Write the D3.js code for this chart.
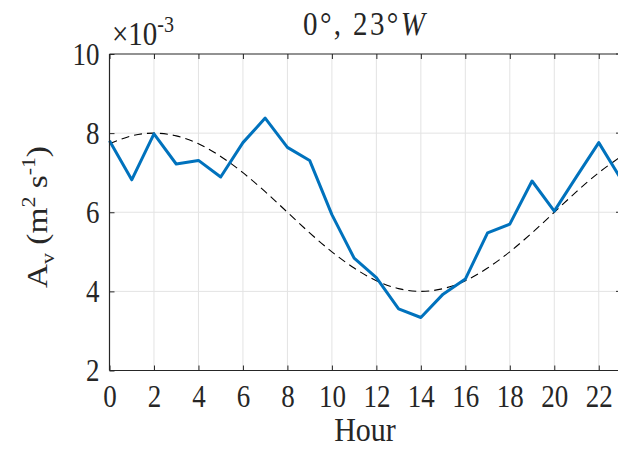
<!DOCTYPE html>
<html>
<head>
<meta charset="utf-8">
<script src="https://cdn.jsdelivr.net/npm/d3@7"></script>
<style>
  html, body { margin: 0; padding: 0; background: #fff; overflow: hidden; }
  svg { display: block; }
  text { font-family: "Liberation Serif", "Times New Roman", serif; fill: #262626; }
</style>
</head>
<body>
<svg id="chart" width="618" height="449"></svg>
<script>
// Hour of day
const hours = d3.range(0, 24);
// Observed vertical eddy viscosity (units of 1e-3 m^2/s)
const observed = [7.81, 6.82, 7.98, 7.22, 7.31, 6.89, 7.76, 8.38, 7.64, 7.31,
                  5.94, 4.84, 4.35, 3.56, 3.34, 3.93, 4.31, 5.48, 5.70, 6.79,
                  6.03, 6.90, 7.76, 6.84];
// Diurnal fit (units of 1e-3 m^2/s)
const fitted = [7.73, 7.93, 8.00, 7.93, 7.73, 7.41, 7.00, 6.52, 6.00, 5.48,
                5.00, 4.59, 4.27, 4.07, 4.00, 4.07, 4.27, 4.59, 5.00, 5.48,
                6.00, 6.52, 7.00, 7.41];
const xTicks = d3.range(0, 23, 2);
const yTicks = [2, 4, 6, 8, 10];

const svg = d3.select("#chart");
const m = { left: 109.5, right: 621, top: 54, bottom: 370.5 };

const x = d3.scaleLinear().domain([0, 23]).range([m.left, m.right]);
const y = d3.scaleLinear().domain([2, 10]).range([m.bottom, m.top]);

const axisColor = "#262626";
const gridColor = "#e3e3e3";
const stretch = 1.15;   // glyphs are drawn slightly taller than wide
const tickFont = 27;

// grid
const grid = svg.append("g");
grid.selectAll(".gx").data(xTicks.slice(1)).join("line")
  .attr("x1", d => x(d)).attr("x2", d => x(d))
  .attr("y1", m.top).attr("y2", m.bottom)
  .attr("stroke", gridColor).attr("stroke-width", 1);
grid.selectAll(".gy").data(yTicks.slice(1, -1)).join("line")
  .attr("x1", m.left).attr("x2", m.right)
  .attr("y1", d => y(d)).attr("y2", d => y(d))
  .attr("stroke", gridColor).attr("stroke-width", 1);

// curves
const fitLine = d3.line().x((d, i) => x(hours[i])).y(d => y(d)).curve(d3.curveNatural);
svg.append("path").datum(fitted)
  .attr("d", fitLine)
  .attr("fill", "none").attr("stroke", "#000").attr("stroke-width", 1.1)
  .attr("stroke-dasharray", "8,5");

const obsLine = d3.line().x((d, i) => x(hours[i])).y(d => y(d));
svg.append("path").datum(observed)
  .attr("d", obsLine)
  .attr("fill", "none").attr("stroke", "#0072BD").attr("stroke-width", 3)
  .attr("stroke-linejoin", "round");

// axes (ticks pointing inward)
const tickLen = 5;
const bottomAxis = d3.axisBottom(x).tickValues(xTicks).tickSize(-tickLen).tickFormat(d3.format("d"));
const topAxis = d3.axisTop(x).tickValues(xTicks).tickSize(-tickLen).tickFormat("");
const leftAxis = d3.axisLeft(y).tickValues(yTicks).tickSize(-tickLen).tickFormat(d3.format("d"));

function style(g) {
  g.select(".domain").attr("stroke", axisColor).attr("stroke-width", 1.2);
  g.selectAll(".tick line").attr("stroke", axisColor).attr("stroke-width", 1);
  g.selectAll(".tick text").attr("fill", axisColor)
    .style("font-family", '"Liberation Serif", serif').style("font-size", tickFont + "px");
}

svg.append("g").attr("transform", `translate(0,${m.bottom})`).call(bottomAxis).call(style)
  .call(g => g.select(".domain").attr("d", `M${m.left},0H${m.right}`))
  .call(g => g.selectAll(".tick text").attr("y", 0).attr("dy", null)
    .attr("transform", `translate(0,36) scale(1,${stretch})`));
svg.append("g").attr("transform", `translate(0,${m.top})`).call(topAxis).call(style)
  .call(g => g.select(".domain").attr("d", `M${m.left},0H${m.right}`));
svg.append("g").attr("transform", `translate(${m.left},0)`).call(leftAxis).call(style)
  .call(g => g.select(".domain").attr("d", `M0,${m.top}V${m.bottom}`))
  .call(g => g.selectAll(".tick text").attr("x", 0).attr("dy", null)
    .attr("transform", `translate(-10,10) scale(1,${stretch})`));
// tick marks along the right edge
svg.append("g").selectAll("line").data(yTicks).join("line")
  .attr("x1", m.right).attr("x2", m.right - tickLen)
  .attr("y1", d => y(d)).attr("y2", d => y(d))
  .attr("stroke", axisColor);

// helper: text anchored at (px,py) with vertical stretch
function label(px, py, extra = "") {
  return svg.append("text")
    .attr("transform", `translate(${px},${py}) scale(1,${stretch})${extra}`);
}

// exponent label
const ex = label(112, 45).style("font-size", "29px");
ex.append("tspan").text("×10");
ex.append("tspan").attr("dy", -11).style("font-size", "20px").text("-3");

// title
const title = label(364, 35).attr("text-anchor", "middle").style("font-size", "29px")
  .attr("textLength", 122).attr("lengthAdjust", "spacing");
title.append("tspan").text("0°, 23°");
title.append("tspan").style("font-style", "italic").text("W");

// x label
label(365, 441).attr("text-anchor", "middle").style("font-size", "30px").text("Hour");

// y label
const yl = label(47, 217, " rotate(-90)").attr("text-anchor", "middle").style("font-size", "29px");
yl.append("tspan").text("A");
yl.append("tspan").attr("dy", 7).style("font-size", "19px").text("v");
yl.append("tspan").attr("dy", -7).text(" (m");
yl.append("tspan").attr("dy", -12).style("font-size", "19px").text("2");
yl.append("tspan").attr("dy", 12).text(" s");
yl.append("tspan").attr("dy", -12).style("font-size", "19px").text("-1");
yl.append("tspan").attr("dy", 12).text(")");
</script>
</body>
</html>
